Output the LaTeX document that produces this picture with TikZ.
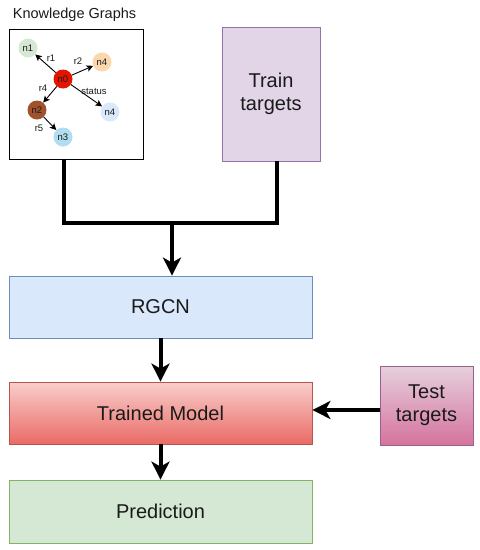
\documentclass[tikz,border=0pt]{standalone}
\usepackage{fontspec}
\setmainfont{Liberation Sans}
\usetikzlibrary{arrows.meta}
\definecolor{rgcnfill}{HTML}{DAE8FC}
\definecolor{rgcnline}{HTML}{6C8EBF}
\definecolor{trainfill}{HTML}{E1D5E7}
\definecolor{trainline}{HTML}{9673A6}
\definecolor{tmtop}{HTML}{F8CECC}
\definecolor{tmbot}{HTML}{EA6B66}
\definecolor{tmline}{HTML}{B85450}
\definecolor{testtop}{HTML}{E6D0DE}
\definecolor{testbot}{HTML}{D5739D}
\definecolor{testline}{HTML}{996185}
\definecolor{predfill}{HTML}{D5E8D4}
\definecolor{predline}{HTML}{82B366}
\definecolor{cnone}{HTML}{D5E8D4}
\definecolor{cnfour}{HTML}{FAD7AC}
\definecolor{cnzero}{HTML}{E51400}
\definecolor{cntwo}{HTML}{A0522D}
\definecolor{cnthree}{HTML}{B1DDF0}
\definecolor{cnfourb}{HTML}{DAE8FC}
\definecolor{txt}{HTML}{1A1A1A}
\begin{document}
\begin{tikzpicture}[x=1pt,y=-1pt, text=txt,
  box/.style={draw, line width=0.8pt, rectangle, align=center, font=\fontsize{20}{23}\selectfont, inner sep=0pt},
  gnode/.style={circle, minimum size=19pt, inner sep=0pt, font=\fontsize{9.5}{10}\selectfont},
  glabel/.style={font=\fontsize{9.5}{10}\selectfont, inner sep=0.5pt},
  garr/.style={line width=0.9pt, -{Stealth[length=6.5pt,width=6.5pt,inset=1.5pt]}},
  thickline/.style={line width=4pt, line join=miter},
  thickarr/.style={line width=4pt, -{Stealth[length=18pt,width=18pt,inset=5pt]}}
]
\useasboundingbox (0,0) rectangle (480,550);

% Knowledge graph panel
\node[font=\fontsize{14.5}{16}\selectfont, inner sep=0pt] (kgtitle) at (74.5,15) {Knowledge Graphs};
\node[draw, line width=0.8pt, fill=white, minimum width=134pt, minimum height=130pt, inner sep=0pt] (kg) at (76,94) {};

\node[gnode, fill=cnone] (n1) at (28,48) {n1};
\node[gnode, fill=cnfour] (n4a) at (102,62) {n4};
\node[gnode, fill=cnzero] (n0) at (63,79) {n0};
\node[gnode, fill=cntwo] (n2) at (37,110) {n2};
\node[gnode, fill=cnfourb] (n4b) at (110,112) {n4};
\node[gnode, fill=cnthree] (n3) at (63,137) {n3};

\draw[garr] (n0) -- (n1);
\draw[garr] (n0) -- (n4a);
\draw[garr] (n0) -- (n2);
\draw[garr] (n0) -- (n4b);
\draw[garr] (n2) -- (n3);

\node[glabel] (lr1) at (51,58) {r1};
\node[glabel] (lr2) at (78,61) {r2};
\node[glabel] (lr4) at (43,88) {r4};
\node[glabel] (lst) at (94,91) {status};
\node[glabel] (lr5) at (39,128) {r5};

% Train targets
\node[box, fill=trainfill, draw=trainline, minimum width=98pt, minimum height=134pt] (train) at (271,94) {Train\\targets};

% Main pipeline
\node[box, fill=rgcnfill, draw=rgcnline, minimum width=303pt, minimum height=62pt] (rgcn) at (160.5,307) {RGCN};
\node[box, top color=tmtop, bottom color=tmbot, draw=tmline, minimum width=303pt, minimum height=62pt] (tm) at (160.5,413) {Trained Model};
\node[box, fill=predfill, draw=predline, minimum width=303pt, minimum height=63pt] (pred) at (160.5,511.5) {Prediction};
\node[box, top color=testtop, bottom color=testbot, draw=testline, minimum width=93pt, minimum height=79pt] (test) at (426.5,405.5) {Test\\targets};

% Connectors
\coordinate (kb) at ([xshift=-12pt]kg.south);
\coordinate (tb) at ([xshift=6pt]train.south);
\coordinate (j) at (172,223);
\draw[thickline] (kb) |- (j) -| (tb);
\draw[thickarr] (j) -- (j |- rgcn.north);
\draw[thickarr] (rgcn) -- (tm);
\draw[thickarr] (tm) -- (pred);
\coordinate (ta) at ([yshift=-4.5pt]test.west);
\draw[thickarr] (ta) -- (ta -| tm.east);
\end{tikzpicture}
\end{document}
